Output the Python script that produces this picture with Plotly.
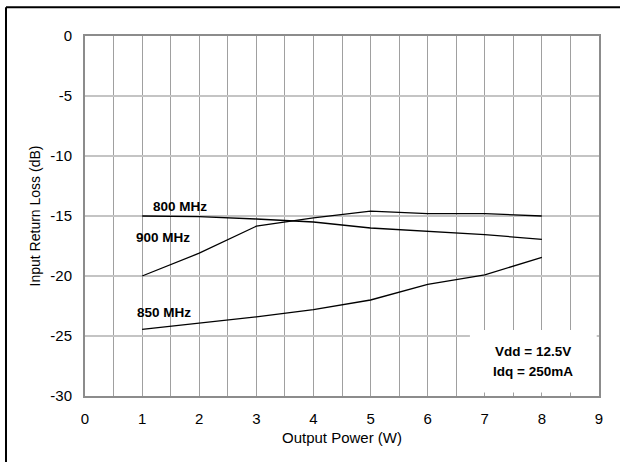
import plotly.graph_objects as go

power = [1, 2, 3, 4, 5, 6, 7, 8]
rl_800 = [-15.0, -15.05, -15.25, -15.5, -16.0, -16.25, -16.55, -16.95]
rl_900 = [-20.0, -18.1, -15.85, -15.15, -14.6, -14.8, -14.8, -15.0]
rl_850 = [-24.45, -23.95, -23.4, -22.8, -22.0, -20.7, -19.9, -18.45]

x_ticks = [0, 1, 2, 3, 4, 5, 6, 7, 8, 9]
y_ticks = [0, -5, -10, -15, -20, -25, -30]

FONT = "Arial, Liberation Sans, sans-serif"

fig = go.Figure()
for ys in (rl_800, rl_900, rl_850):
    fig.add_trace(go.Scatter(x=power, y=ys, mode="lines",
                             line=dict(color="black", width=1.3),
                             showlegend=False, hoverinfo="skip"))

labels = [("800 MHz", 1.655, -14.22), ("900 MHz", 1.366, -16.83), ("850 MHz", 1.383, -23.08),
          ("Vdd = 12.5V", 7.845, -26.33), ("Idq = 250mA", 7.845, -27.97)]
for txt, x, y in labels:
    fig.add_annotation(x=x, y=y, text="<b>%s</b>" % txt, showarrow=False,
                       font=dict(family=FONT, size=13.5, color="black"),
                       xanchor="center", yanchor="middle")

fig.add_shape(type="rect", xref="x", yref="y", x0=6.74, x1=8.96, y0=-29.7, y1=-24.5,
              fillcolor="white", line=dict(width=0), layer="between")

# outer frame lines (top and left)
fig.add_shape(type="line", xref="paper", yref="paper", x0=-0.1537, x1=1.05, y0=1.08, y1=1.08,
              line=dict(color="black", width=2))
fig.add_shape(type="line", xref="paper", yref="paper", x0=-0.1537, x1=-0.1537, y0=1.08, y1=-0.2,
              line=dict(color="black", width=2))

fig.update_layout(
    width=620, height=462,
    margin=dict(l=85, r=21, t=36, b=66),
    paper_bgcolor="white", plot_bgcolor="white",
    font=dict(family=FONT, size=15, color="black"),
    xaxis=dict(range=[0, 9], tickvals=x_ticks, ticktext=[str(v) for v in x_ticks],
               showgrid=True, gridcolor="#a0a0a0", gridwidth=1,
               minor=dict(dtick=0.5, tick0=0, showgrid=True, gridcolor="#a0a0a0", gridwidth=1),
               showline=True, linecolor="#8c8c8c", linewidth=2, mirror=True,
               zeroline=False, ticks="", ticklabelstandoff=8,
               title=dict(text="Output Power (W)", font=dict(size=15), standoff=6)),
    yaxis=dict(range=[-30, 0], tickvals=y_ticks, ticktext=[str(v) for v in y_ticks],
               showgrid=True, gridcolor="#c4c4c4", gridwidth=2,
               showline=True, linecolor="#8c8c8c", linewidth=2, mirror=True,
               zeroline=False, ticks="", ticklabelstandoff=8,
               title=dict(text="Input Return Loss (dB)", font=dict(size=14), standoff=6)),
)

fig.write_html("out.html", config={"displayModeBar": False},
               post_script="document.body.style.margin='0';document.body.style.overflow='hidden';")
